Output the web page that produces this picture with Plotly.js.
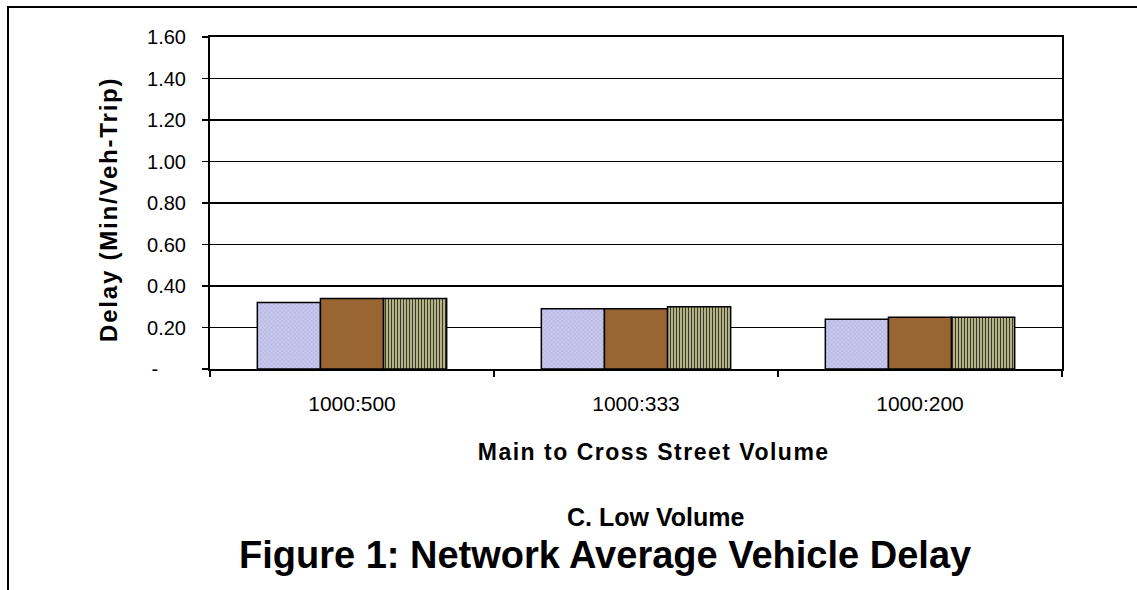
<!DOCTYPE html>
<html>
<head>
<meta charset="utf-8">
<script src="https://cdn.plot.ly/plotly-3.0.1.min.js"></script>
<style>
  html, body { margin: 0; padding: 0; background: #fff; }
  #chart { width: 1137px; height: 590px; }
  /* slightly open tracking on the axis titles */
  .annotation[data-index="0"] text { letter-spacing: 1.8px; }
  .annotation[data-index="1"] text { letter-spacing: 1.5px; }
</style>
</head>
<body>
<div id="chart"></div>
<script>
// Volume ratio categories (main street : cross street)
const categories = ['1000:500', '1000:333', '1000:200'];

// Average delay per vehicle trip, minutes
const seriesA = [0.32, 0.29, 0.24];
const seriesB = [0.34, 0.29, 0.25];
const seriesC = [0.34, 0.30, 0.25];

// Y ticks, with the zero shown as a dash
const tickValues = [0, 0.2, 0.4, 0.6, 0.8, 1.0, 1.2, 1.4, 1.6];
const tickLabels = ['-\u00a0\u00a0\u00a0\u00a0\u00a0', '0.20', '0.40', '0.60', '0.80', '1.00', '1.20', '1.40', '1.60'];

const FONT = 'Liberation Sans, Arial, sans-serif';
const W = 1137, H = 590;
const M = { l: 210, r: 75, t: 37, b: 221 };
const plotW = W - M.l - M.r, plotH = H - M.t - M.b;
// helpers to place page-pixel positions in paper coordinates
const px = x => (x - M.l) / plotW;
const py = y => (H - M.b - y) / plotH;

const outline = { color: '#000', width: 1.5 };

const traces = [
  {
    type: 'bar', name: 'A', x: categories, y: seriesA,
    marker: {
      color: '#c8c8ee', line: outline,
      pattern: { shape: 'x', size: 3, solidity: 0.25, fgcolor: '#a4a4d8', bgcolor: '#c8c8ee' }
    }
  },
  {
    type: 'bar', name: 'B', x: categories, y: seriesB,
    marker: { color: '#996633', line: outline }
  },
  {
    type: 'bar', name: 'C', x: categories, y: seriesC,
    marker: {
      color: '#d8d8a4', line: outline,
      pattern: { shape: '|', size: 3, solidity: 0.5, fgcolor: '#3a3a28', bgcolor: '#dcdca8' }
    }
  }
];

const layout = {
  width: W, height: H,
  margin: M,
  paper_bgcolor: '#fff', plot_bgcolor: '#fff',
  showlegend: false,
  barmode: 'group', bargap: 1 / 3, bargroupgap: 0,
  font: { family: FONT, color: '#000', size: 20 },
  xaxis: {
    type: 'category',
    showline: true, linecolor: '#000', linewidth: 2, mirror: true,
    ticks: 'outside', ticklen: 6, tickwidth: 1.5, tickcolor: '#000',
    tickson: 'boundaries',
    tickfont: { size: 21 },
    ticklabelstandoff: 15,
    showgrid: false, zeroline: false
  },
  yaxis: {
    range: [0, 1.6],
    tickmode: 'array', tickvals: tickValues, ticktext: tickLabels,
    showline: true, linecolor: '#000', linewidth: 2, mirror: true,
    ticks: 'outside', ticklen: 6, tickwidth: 1.5, tickcolor: '#000',
    tickfont: { size: 20 },
    ticklabelstandoff: 12,
    showgrid: true, gridcolor: '#000', gridwidth: 1.5,
    zeroline: false
  },
  annotations: [
    {
      xref: 'paper', yref: 'paper', x: px(108), y: py(210), xanchor: 'center', yanchor: 'middle',
      textangle: -90, text: '<b>Delay (Min/Veh-Trip)</b>', showarrow: false, font: { size: 24 }
    },
    {
      xref: 'paper', yref: 'paper', x: px(653), y: py(452), xanchor: 'center', yanchor: 'middle',
      text: '<b>Main to Cross Street Volume</b>', showarrow: false, font: { size: 23 }
    },
    {
      xref: 'paper', yref: 'paper', x: px(655), y: py(517), xanchor: 'center', yanchor: 'middle',
      text: '<b>C. Low Volume</b>', showarrow: false, font: { size: 25 }
    },
    {
      xref: 'paper', yref: 'paper', x: px(605), y: py(555), xanchor: 'center', yanchor: 'middle',
      text: '<b>Figure 1: Network Average Vehicle Delay</b>', showarrow: false, font: { size: 38 }
    }
  ],
  shapes: [
    // outer frame around the figure
    {
      type: 'rect', xref: 'paper', yref: 'paper', layer: 'below',
      x0: px(8), x1: px(1160), y0: py(610), y1: py(7),
      line: { color: '#000', width: 2 }, fillcolor: 'rgba(0,0,0,0)'
    }
  ]
};

Plotly.newPlot('chart', traces, layout, { staticPlot: true, displayModeBar: false });
</script>
</body>
</html>
